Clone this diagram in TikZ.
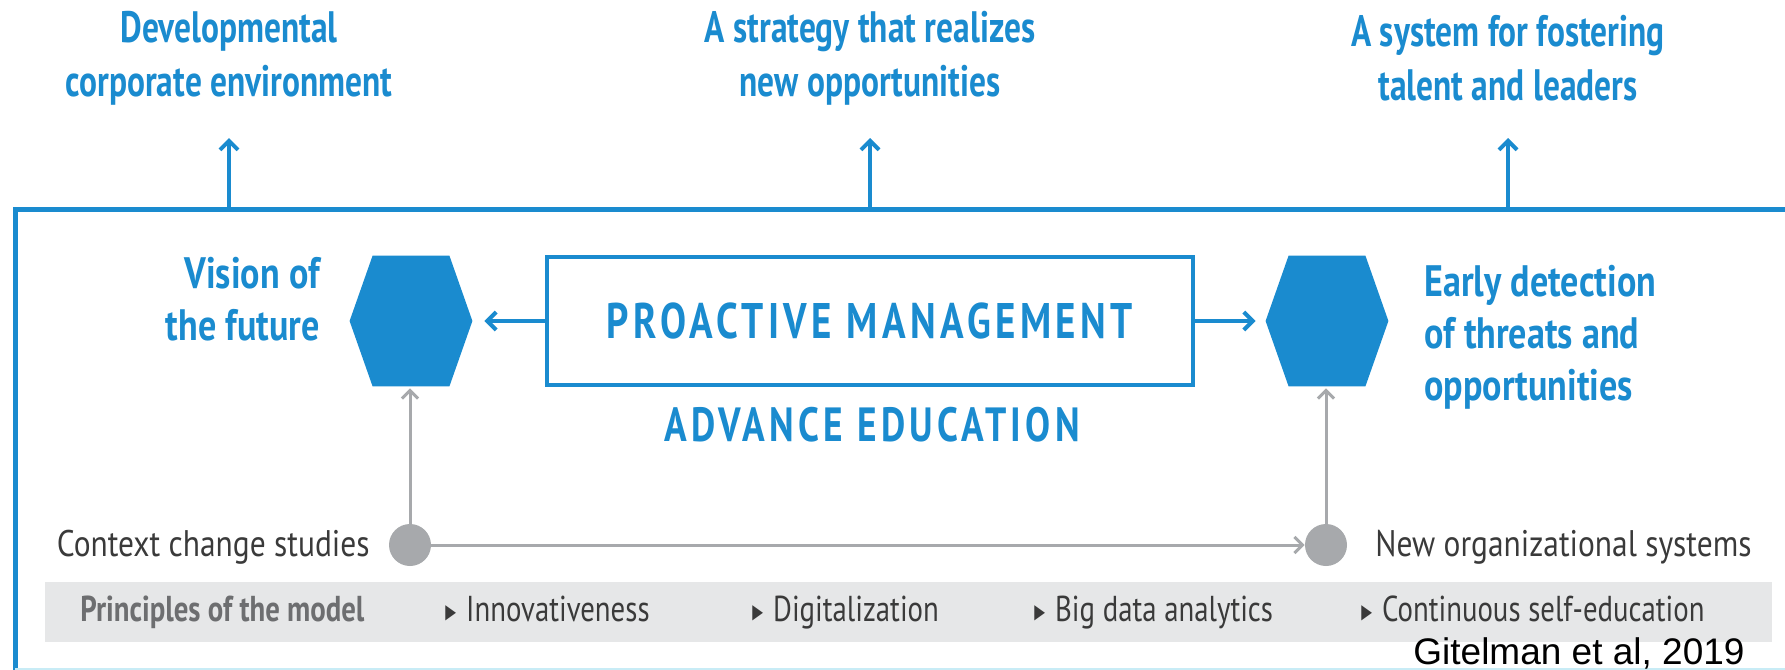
\documentclass[tikz,border=0pt]{standalone}
\usepackage{fontspec}
\usepackage{graphicx}
\setmainfont{PT Sans}
\newfontfamily\lblfont[FakeStretch=0.76]{PT Sans}
\newfontfamily\sidefont[FakeStretch=0.82]{PT Sans}
\newfontfamily\capfont[FakeStretch=0.78,LetterSpace=9]{PT Sans}
\newfontfamily\txtfont[FakeStretch=0.85]{PT Sans}
\newfontfamily\itmfont[FakeStretch=0.8]{PT Sans}
\newfontfamily\symfont{DejaVu Sans}
\newfontfamily\citefont{Liberation Sans}
\usetikzlibrary{arrows.meta,calc}
\definecolor{mblue}{HTML}{1A8BCF}
\definecolor{mgray}{HTML}{A7A9AC}
\definecolor{mtext}{HTML}{3A3A3A}
\definecolor{mprin}{HTML}{6D6E70}
\definecolor{mband}{HTML}{E6E7E8}
\definecolor{mcyan}{HTML}{C8ECF6}
\newcommand{\mytri}{\raisebox{1.5pt}{\symfont\fontsize{10pt}{10pt}\selectfont\scalebox{0.7}[1]{▶}}\hspace{5pt}}
\tikzset{
  bluelabel/.style={text=mblue, inner sep=0pt, font={\lblfont\bfseries\fontsize{22pt}{27pt}\selectfont}},
  sidelabel/.style={text=mblue, inner sep=0pt, font={\sidefont\bfseries\fontsize{22pt}{26pt}\selectfont}},
  pbox/.style={draw=mblue, line width=2pt, minimum width=323pt, minimum height=64pt, inner sep=0pt, text=mblue, font={\capfont\bfseries\fontsize{25pt}{29pt}\selectfont}},
  captext/.style={text=mblue, inner sep=0pt, font={\capfont\bfseries\fontsize{24pt}{28pt}\selectfont}},
  hexbox/.style={minimum width=61pt, minimum height=65pt, inner sep=0pt},
  hexfill/.style={fill=mblue},
  dot/.style={circle, fill=mgray, minimum size=21pt, inner sep=0pt},
  graytext/.style={text=mtext, inner sep=0pt, font={\txtfont\fontsize{18.5pt}{22pt}\selectfont}},
  prin/.style={text=mprin, inner sep=0pt, font={\itmfont\bfseries\fontsize{18pt}{22pt}\selectfont}},
  itemtext/.style={text=mtext, inner sep=0pt, font={\itmfont\fontsize{18pt}{22pt}\selectfont}},
  frameline/.style={draw=mblue, line width=2.5pt},
  toparrow/.style={draw=mblue, line width=2pt, -{Straight Barb[length=4.5pt,width=9pt,line width=2pt]}},
  bluearrow/.style={draw=mblue, line width=2pt, -{Straight Barb[length=4.5pt,width=9pt,line width=2pt]}},
  grayarrow/.style={draw=mgray, line width=1.5pt, -{Straight Barb[length=4pt,width=8pt,line width=1.5pt]}},
  bandbox/.style={fill=mband, minimum width=863.5pt, minimum height=30pt, inner sep=0pt},
}
\begin{document}
\begin{tikzpicture}[x=0.5pt,y=-0.5pt]
\useasboundingbox (0,0) rectangle (1785,670);
\fill[white] (0,0) rectangle (1785,670);

% outer frame
\draw[frameline] (1800,209) -- (15,209) -- (15,680);
\draw[mcyan, line width=1.5pt] (15,669) -- (1800,669);
\coordinate (f1) at (229,209);
\coordinate (f2) at (870,209);
\coordinate (f3) at (1508,209);
\coordinate (a1) at (229,138);
\coordinate (a2) at (870,138);
\coordinate (a3) at (1508,138);

% top labels
\node[bluelabel, align=center] (t1) at (229,58) {Developmental\\corporate environment};
\node[bluelabel, align=center] (t2) at (870,58) {A strategy that realizes\\new opportunities};
\node[bluelabel, align=center] (t3) at (1508,58) {A system for fostering\\talent and leaders};
\draw[toparrow] (f1) -- (a1);
\draw[toparrow] (f2) -- (a2);
\draw[toparrow] (f3) -- (a3);

% central box
\node[pbox] (pm) at (870,321) {PROACTIVE MANAGEMENT};
\node[captext] (ae) at (872,425) {ADVANCE EDUCATION};

% hexagons
\node[hexbox] (hL) at (411,321) {};
\node[hexbox] (hR) at (1327,321) {};
\fill[hexfill] (hL.west) -- ($(hL.north west)+(23,0)$) -- ($(hL.north east)+(-23,0)$) -- (hL.east) -- ($(hL.south east)+(-23,0)$) -- ($(hL.south west)+(23,0)$) -- cycle;
\fill[hexfill] (hR.west) -- ($(hR.north west)+(23,0)$) -- ($(hR.north east)+(-23,0)$) -- (hR.east) -- ($(hR.south east)+(-23,0)$) -- ($(hR.south west)+(23,0)$) -- cycle;
\draw[bluearrow, shorten >=6pt] (pm.west) -- (hL.east);
\draw[bluearrow, shorten >=5pt] (pm.east) -- (hR.west);

\node[sidelabel, align=right, anchor=east] (vis) at (320,299) {Vision of\\the future};
\node[sidelabel, align=left, anchor=west] (early) at (1424,337) {Early detection\\of threats and\\opportunities};

% gray circles and connectors
\node[dot] (cL) at (410,545) {};
\node[dot] (cR) at (1326,545) {};
\draw[grayarrow, shorten >=1pt] (cL.north) -- (cL.north |- hL.south);
\draw[grayarrow, shorten >=1pt] (cR.north) -- (cR.north |- hR.south);
\draw[grayarrow] (cL.east) -- (cR.west);
\node[graytext, anchor=base east] (ctx) at (370,556) {Context change studies};
\node[graytext, anchor=base west] (nos) at (1375,556) {New organizational systems};

% principles band
\node[bandbox] (band) at (908.5,612) {};
\node[prin, anchor=base west] (p0) at (80,621) {Principles of the model};
\node[itemtext, anchor=base west] (p1) at (445,621) {\mytri Innovativeness};
\node[itemtext, anchor=base west] (p2) at (752,621) {\mytri Digitalization};
\node[itemtext, anchor=base west] (p3) at (1034,621) {\mytri Big data analytics};
\node[itemtext, anchor=base west] (p4) at (1361,621) {\mytri Continuous self-education};

% citation
\node[anchor=base west, inner sep=0pt, font={\citefont\fontsize{18.5pt}{22pt}\selectfont}] (cite) at (1413,664) {Gitelman et al, 2019};
\end{tikzpicture}
\end{document}
